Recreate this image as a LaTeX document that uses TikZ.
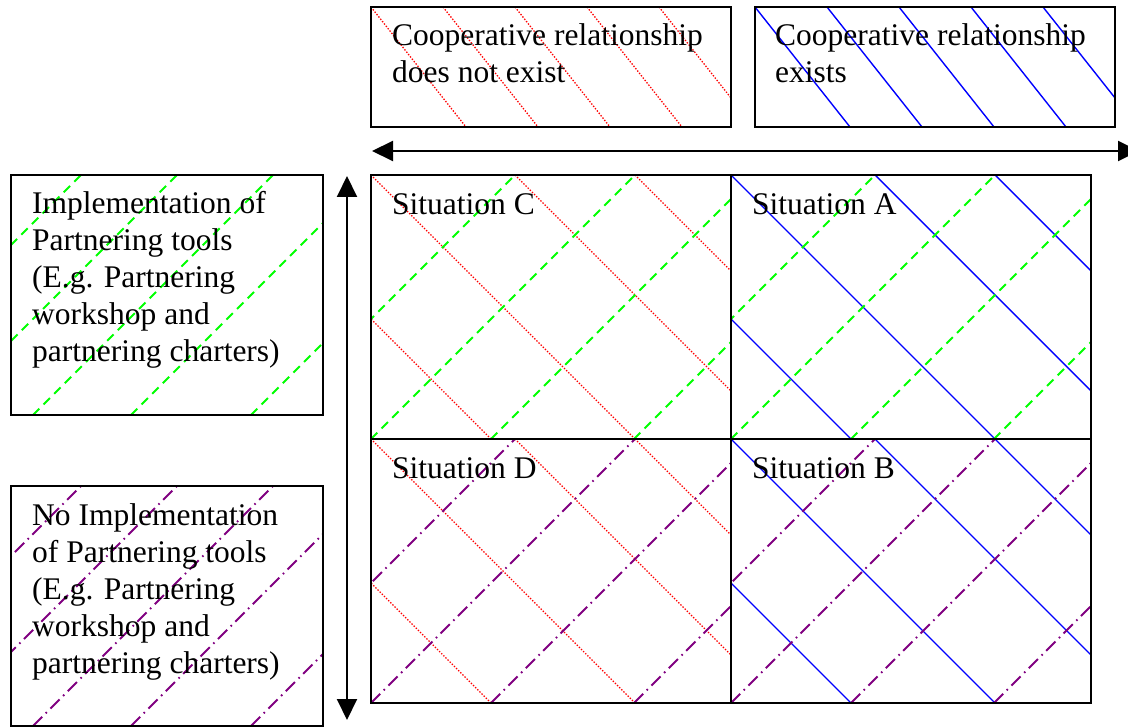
\documentclass[tikz,border=0pt]{standalone}
\usepackage{fontspec}
\setmainfont{Liberation Serif}
\usetikzlibrary{arrows.meta}
\definecolor{hatchred}{RGB}{255,0,0}
\definecolor{hatchblue}{RGB}{0,0,255}
\definecolor{hatchgreen}{RGB}{0,255,0}
\definecolor{hatchpurple}{RGB}{128,0,128}
\pgfdeclarelayer{background}
\pgfsetlayers{background,main}

% Hatching of a 360x264 quadrant whose top-left corner is (#1,#2):
% #3 = style of the falling lines, #4 = style of the rising lines
\newcommand\quadhatch[4]{%
  \begin{scope}
    \clip (#1,#2) rectangle ({#1+360},{#2+264});
    \foreach \d in {-144,0,144,264}
      \draw[#3] ({#1+\d},#2) -- ({#1+\d+264},{#2+264});
    \foreach \u in {144,264,384,527}
      \draw[#4] ({#1+\u-264},{#2+264}) -- ({#1+\u},#2);
  \end{scope}}
% Rising hatching of a 312x240 side box with top-left corner (#1,#2)
\newcommand\sidehatch[3]{%
  \begin{scope}
    \clip (#1,#2) rectangle ({#1+312},{#2+240});
    \foreach \u in {70,166,262,360,480}
      \draw[#3] ({#1+\u-240},{#2+240}) -- ({#1+\u},#2);
  \end{scope}}
% Falling hatching of a 360x120 header box with top-left corner (#1,#2)
\newcommand\headhatch[3]{%
  \begin{scope}
    \clip (#1,#2) rectangle ({#1+360},{#2+120});
    \foreach \k in {0,...,4}
      \draw[#3] ({#1+72*\k},#2) -- ({#1+72*\k+95},{#2+120});
  \end{scope}}

\begin{document}
\begin{tikzpicture}[x=1pt,y=-1pt,
  frame/.style={draw=black, line width=2pt, inner sep=0pt, outer sep=0pt},
  % multi-line labels are placed by the baseline of their last line
  lbl/.style={anchor=base west, inner sep=0pt, align=left,
    font=\fontsize{31.5}{37}\selectfont},
  redhatch/.style={draw=hatchred, line width=1.3pt, dash pattern=on 1.4pt off 1.6pt},
  bluehatch/.style={draw=hatchblue, line width=1.4pt},
  greenhatch/.style={draw=hatchgreen, line width=2pt, dash pattern=on 9pt off 6pt},
  purplehatch/.style={draw=hatchpurple, line width=2pt,
    dash pattern=on 13pt off 5pt on 1.6pt off 5pt},
  twoway/.style={line width=2pt,
    {Triangle[length=21pt,width=20pt]}-{Triangle[length=21pt,width=20pt]}}]
\useasboundingbox (0,0) rectangle (1128,727);

% header boxes
\node[frame, minimum width=360, minimum height=120] (nocoop) at (551,67) {};
\node[frame, minimum width=360, minimum height=120] (coop) at (935,67) {};
% side boxes
\node[frame, minimum width=312, minimum height=240] (tools) at (167,295) {};
\node[frame, minimum width=312, minimum height=240] (notools) at (167,606) {};
% the four situations
\node[frame, minimum width=360, minimum height=264] (sitC) at (551,307) {};
\node[frame, minimum width=360, minimum height=264] (sitA) at (911,307) {};
\node[frame, minimum width=360, minimum height=264] (sitD) at (551,571) {};
\node[frame, minimum width=360, minimum height=264] (sitB) at (911,571) {};

\begin{pgfonlayer}{background}
  \headhatch{371}{7}{redhatch}
  \headhatch{755}{7}{bluehatch}
  \sidehatch{11}{175}{greenhatch}
  \sidehatch{11}{486}{purplehatch}
  \quadhatch{371}{175}{redhatch}{greenhatch}
  \quadhatch{731}{175}{bluehatch}{greenhatch}
  \quadhatch{371}{439}{redhatch}{purplehatch}
  \quadhatch{731}{439}{bluehatch}{purplehatch}
\end{pgfonlayer}

% labels
\node[lbl] (tNocoop) at (392,83) {Cooperative relationship\\does not exist};
\node[lbl] (tCoop) at (775,83) {Cooperative relationship\\exists};
\node[lbl] (tTools) at (32,362) {Implementation of\\Partnering tools\\(E.g. Partnering\\workshop and\\partnering charters)};
\node[lbl] (tNotools) at (32,673) {No Implementation\\of Partnering tools\\(E.g. Partnering\\workshop and\\partnering charters)};
\node[lbl] (tC) at (392,215) {Situation C};
\node[lbl] (tA) at (752,215) {Situation A};
\node[lbl] (tD) at (392,478) {Situation D};
\node[lbl] (tB) at (752,478) {Situation B};

% axes
\coordinate (hL) at (372,151);
\coordinate (hR) at (1139,151);
\coordinate (vT) at (347,176);
\coordinate (vB) at (347,720);
\draw[twoway] (hL) -- (hR);
\draw[twoway] (vT) -- (vB);
\end{tikzpicture}
\end{document}
